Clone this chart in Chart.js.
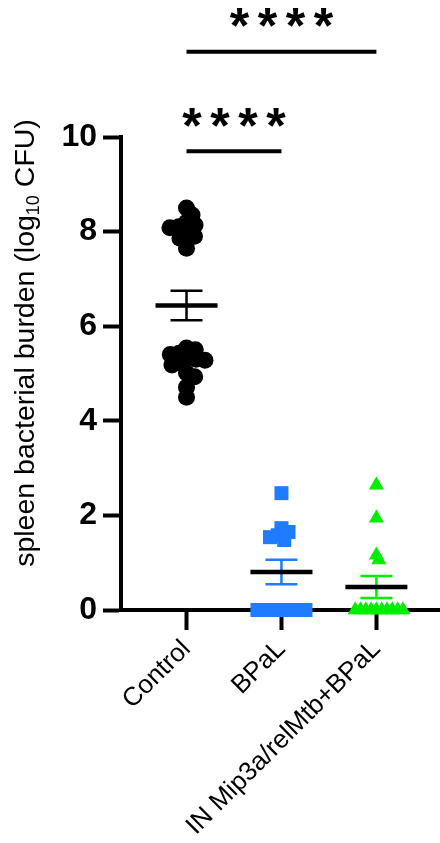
<!DOCTYPE html>
<html lang="en">
<head>
<meta charset="UTF-8">
<title>Spleen bacterial burden</title>
<script src="https://cdn.jsdelivr.net/npm/chart.js"></script>
<style>
  html, body { margin: 0; padding: 0; background: #fff; }
</style>
</head>
<body>
<canvas id="cfuChart" width="440" height="843"></canvas>
<script>
// log10 CFU per mouse, spleen
const groups = ['Control', 'BPaL', 'IN Mip3a/relMtb+BPaL'];
const control = [8.50, 8.35, 8.20, 8.14, 8.10, 8.08, 7.99, 7.90, 7.86, 7.65,
                 5.54, 5.50, 5.43, 5.40, 5.35, 5.30, 5.28, 5.22, 5.18, 5.01, 4.93, 4.71, 4.50];
const bpal = [2.47, 1.73, 1.65, 1.58, 1.54, 1.48, 0, 0, 0, 0, 0, 0, 0];
const mipBpal = [2.64, 1.94, 1.16, 1.06, 0, 0, 0, 0, 0, 0, 0, 0, 0, 0];
const yTicks = [0, 2, 4, 6, 8, 10];
// pairwise comparisons: [group a, group b, label]
const comparisons = [[0, 1, '****'], [0, 2, '****']];

const series = [control, bpal, mipBpal];
const colors = ['#000000', '#1f7bff', '#00ee00'];
const shapes = ['circle', 'rect', 'triangle'];
const radii = [8.5, 9.9, 8.7];
const swarmGap = [9, 8, 5.3];
const bracketLevels = [9.7, 11.8];

const FONT = 'Arial, "Liberation Sans", sans-serif';

function mean(a) {
    return a.reduce((s, v) => s + v, 0) / a.length;
}
function sem(a) {
    const m = mean(a);
    const v = a.reduce((s, x) => s + (x - m) ** 2, 0) / (a.length - 1);
    return Math.sqrt(v / a.length);
}

// spread points sideways so they don't pile up (simple beeswarm)
const swarm = {
    id: 'swarm',
    afterDatasetsUpdate(chart) {
        const xs = chart.scales.x;
        chart.data.datasets.forEach((ds, i) => {
            const els = chart.getDatasetMeta(i).data;
            const cx = xs.getPixelForValue(i + 1);
            const gap = swarmGap[i];
            const placed = [];
            els.map((el, k) => k)
                .sort((a, b) => ds.data[b].y - ds.data[a].y)
                .forEach(k => {
                    const el = els[k];
                    const near = placed.filter(p => Math.abs(p.y - el.y) < gap);
                    const cands = [0];
                    near.forEach(p => {
                        const d = Math.sqrt(gap * gap - (p.y - el.y) ** 2);
                        cands.push(p.dx + d, p.dx - d);
                    });
                    cands.sort((a, b) => Math.abs(a) - Math.abs(b));
                    const dx = cands.find(c => near.every(p =>
                        (p.dx - c) ** 2 + (p.y - el.y) ** 2 >= gap * gap - 0.01));
                    placed.push({ y: el.y, dx: dx });
                    el.x = cx + dx;
                });
        });
    }
};

// mean line with SEM whiskers
const meanSem = {
    id: 'meanSem',
    afterDatasetsDraw(chart) {
        const { ctx, scales: { x, y } } = chart;
        series.forEach((vals, i) => {
            const cx = x.getPixelForValue(i + 1);
            const m = mean(vals), e = sem(vals);
            const yHi = y.getPixelForValue(m + e), yLo = y.getPixelForValue(m - e);
            ctx.save();
            ctx.strokeStyle = colors[i];
            ctx.lineWidth = 2.5;
            ctx.beginPath();
            ctx.moveTo(cx, yHi); ctx.lineTo(cx, yLo);
            ctx.moveTo(cx - 16, yHi); ctx.lineTo(cx + 16, yHi);
            ctx.moveTo(cx - 16, yLo); ctx.lineTo(cx + 16, yLo);
            ctx.stroke();
            ctx.strokeStyle = '#000';
            ctx.lineWidth = 4.5;
            ctx.beginPath();
            ctx.moveTo(cx - 31, y.getPixelForValue(m));
            ctx.lineTo(cx + 31, y.getPixelForValue(m));
            ctx.stroke();
            ctx.restore();
        });
    }
};

// significance brackets above the plot
const brackets = {
    id: 'brackets',
    afterDraw(chart) {
        const { ctx, scales: { x, y } } = chart;
        comparisons.forEach(([a, b, label], i) => {
            const x1 = x.getPixelForValue(a + 1), x2 = x.getPixelForValue(b + 1);
            const yy = y.getPixelForValue(bracketLevels[i]);
            ctx.save();
            ctx.strokeStyle = '#000';
            ctx.lineWidth = 4;
            ctx.beginPath();
            ctx.moveTo(x1, yy); ctx.lineTo(x2, yy);
            ctx.stroke();
            ctx.font = 'bold 50px ' + FONT;
            ctx.fillStyle = '#000';
            ctx.textAlign = 'center';
            ctx.textBaseline = 'alphabetic';
            const mt = ctx.measureText('*');
            const base = yy - 34 + (mt.actualBoundingBoxAscent - mt.actualBoundingBoxDescent) / 2;
            const mid = (x1 + x2) / 2, pitch = 28;
            [...label].forEach((s, k) => {
                ctx.fillText(s, mid + (k - (label.length - 1) / 2) * pitch, base);
            });
            ctx.restore();
        });
    }
};

// y axis title with subscript
const yTitle = {
    id: 'yTitle',
    afterDraw(chart) {
        const ctx = chart.ctx;
        const parts = [['spleen bacterial burden (log', 28.5, 0], ['10', 18, 5], [' CFU)', 28.5, 0]];
        ctx.save();
        ctx.fillStyle = '#000';
        ctx.textBaseline = 'alphabetic';
        ctx.textAlign = 'left';
        let w = 0;
        parts.forEach(p => { ctx.font = p[1] + 'px ' + FONT; w += ctx.measureText(p[0]).width; });
        ctx.translate(34, 343);
        ctx.rotate(-Math.PI / 2);
        let xx = -w / 2;
        parts.forEach(p => {
            ctx.font = p[1] + 'px ' + FONT;
            ctx.fillText(p[0], xx, p[2]);
            xx += ctx.measureText(p[0]).width;
        });
        ctx.restore();
    }
};

const datasets = series.map((vals, i) => ({
    label: groups[i],
    data: vals.map(v => ({ x: i + 1, y: v })),
    pointStyle: shapes[i],
    pointRadius: radii[i],
    pointBackgroundColor: colors[i],
    pointBorderWidth: 0,
    pointHoverRadius: radii[i],
    showLine: false,
    clip: false
}));

new Chart(document.getElementById('cfuChart'), {
    type: 'scatter',
    data: { datasets: datasets },
    plugins: [swarm, meanSem, brackets, yTitle],
    options: {
        responsive: false,
        animation: false,
        layout: { autoPadding: false, padding: { top: 137, left: 0, right: 0, bottom: 0 } },
        plugins: { legend: { display: false }, tooltip: { enabled: false } },
        scales: {
            x: {
                type: 'linear',
                min: 0.31,
                max: 3.67,
                afterBuildTicks: s => { s.ticks = groups.map((g, i) => ({ value: i + 1 })); },
                afterFit: s => { s.height = 233; s.paddingLeft = 0; s.paddingRight = 0; },
                ticks: {
                    callback: v => groups[v - 1],
                    autoSkip: false,
                    minRotation: 45,
                    maxRotation: 45,
                    color: '#000',
                    padding: 4,
                    font: { family: FONT, size: 26 }
                },
                grid: { drawOnChartArea: false, tickLength: 20, tickWidth: 4, tickColor: '#000' },
                border: { width: 4, color: '#000' }
            },
            y: {
                min: 0,
                max: 10,
                afterBuildTicks: s => { s.ticks = yTicks.map(v => ({ value: v })); },
                afterFit: s => { s.width = 121; s.paddingTop = 0; s.paddingBottom = 0; },
                ticks: {
                    color: '#000',
                    padding: 6,
                    font: { family: FONT, size: 32, weight: 'bold' }
                },
                grid: { drawOnChartArea: false, tickLength: 18, tickWidth: 4, tickColor: '#000' },
                border: { width: 4, color: '#000' }
            }
        }
    }
});
</script>
</body>
</html>
